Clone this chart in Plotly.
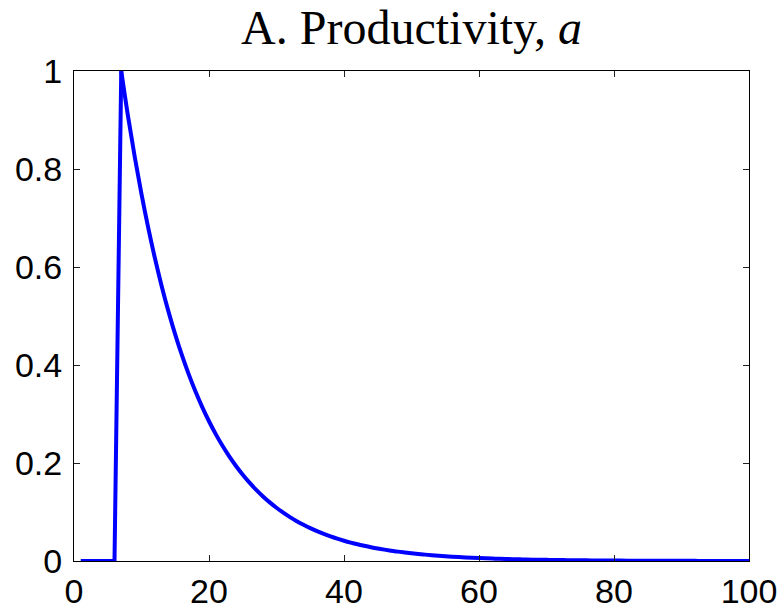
import plotly.graph_objects as go

# period (x) and productivity a
periods = list(range(1, 101))
productivity = [
    0, 0, 0, 0, 0, 0,
    1.000, 0.908, 0.8245, 0.7486, 0.6797, 0.6172, 0.5604, 0.5089, 0.4620, 0.4195,
    0.3809, 0.3459, 0.3141, 0.2852, 0.2589, 0.2351, 0.2135, 0.1939, 0.1760, 0.1598,
    0.1451, 0.1318, 0.1197, 0.1087, 0.0987, 0.0896, 0.0813, 0.0739, 0.0671, 0.0609,
    0.0553, 0.0502, 0.0456, 0.0414, 0.0376, 0.0341, 0.0310, 0.0281, 0.0255, 0.0232,
    0.0211, 0.0191, 0.0174, 0.0158, 0.0143, 0.0130, 0.0118, 0.0107, 0.0097, 0.0088,
    0.0080, 0.0073, 0.0066, 0.0060, 0.0055, 0.0050, 0.0045, 0.0041, 0.0037, 0.0034,
    0.0031, 0.0028, 0.0025, 0.0023, 0.0021, 0.0019, 0.0017, 0.0016, 0.0014, 0.0013,
    0.0012, 0.0011, 0.0010, 0.0009, 0.0008, 0.0007, 0.0007, 0.0006, 0.0005, 0.0005,
    0.0004, 0.0004, 0.0004, 0.0003, 0.0003, 0.0003, 0.0002, 0.0002, 0.0002, 0.0002,
    0.0002, 0.0002, 0.0001, 0.0001,
]
peak_index = 6  # position of the jump's top in the lists above
x_ticks = [0, 20, 40, 60, 80, 100]
y_ticks = [0, 0.2, 0.4, 0.6, 0.8, 1]
y_tick_labels = ["0", "0.2", "0.4", "0.6", "0.8", "1"]
title_text = "A. Productivity, <i>a</i>"

fig = go.Figure()
# flat part and the jump: straight segments
fig.add_trace(go.Scatter(
    x=periods[:peak_index + 1], y=productivity[:peak_index + 1], mode="lines",
    line=dict(color="#0000ff", width=4),
    showlegend=False,
))
# decay part: smooth curve
fig.add_trace(go.Scatter(
    x=periods[peak_index:], y=productivity[peak_index:], mode="lines",
    line=dict(color="#0000ff", width=4, shape="spline", smoothing=1),
    showlegend=False,
))

axis_common = dict(
    showline=True, linecolor="black", linewidth=1, mirror="ticks",
    ticks="inside", ticklen=6, tickwidth=1, tickcolor="#222",
    showgrid=False, zeroline=False, automargin=False,
    tickfont=dict(family="Liberation Sans, Arial, sans-serif", size=34, color="black"),
)

fig.update_layout(
    width=784, height=613,
    margin=dict(l=74, r=35, t=71, b=52),
    paper_bgcolor="white", plot_bgcolor="white",
    title=dict(
        text=title_text,
        font=dict(family="Liberation Serif, Times New Roman, serif", size=48, color="black"),
        x=(74 + 749) / 2 / 784, xanchor="center",
        y=1 - 27 / 613, yanchor="middle",
    ),
    xaxis=dict(range=[0, 100], tickvals=x_ticks, ticklabelstandoff=0, **axis_common),
    yaxis=dict(range=[0, 1], tickvals=y_ticks, ticktext=y_tick_labels, ticklabelstandoff=4, **axis_common),
)

fig.write_html("out.html")
